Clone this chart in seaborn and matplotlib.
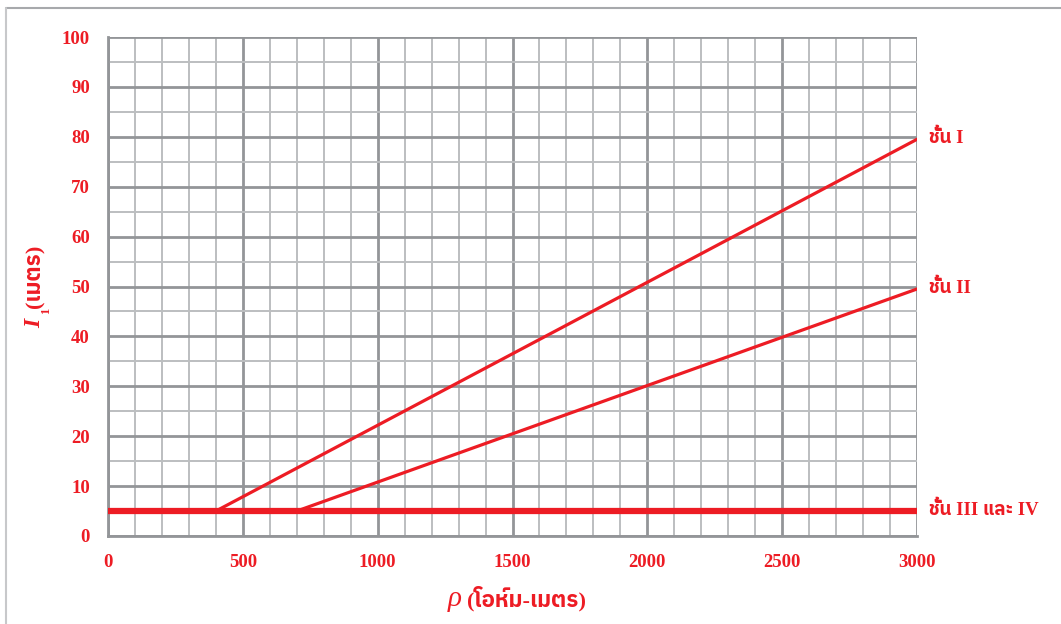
import matplotlib
matplotlib.use("Agg")
import matplotlib.pyplot as plt
import matplotlib.font_manager as fm
import seaborn as sns
import pandas as pd
from matplotlib.lines import Line2D

# -----------------------
# Data
# -----------------------
class_labels = ["ชั้น I", "ชั้น II", "ชั้น III และ IV"]
rho_class1 = [400, 3000]
l_class1 = [5, 79.5]
rho_class2 = [700, 3000]
l_class2 = [5, 49.5]
rho_class34 = [0, 3000]
l_class34 = [5, 5]

x_ticks = [0, 500, 1000, 1500, 2000, 2500, 3000]
y_ticks = [0, 10, 20, 30, 40, 50, 60, 70, 80, 90, 100]

RED = "#ed1c24"
MAJOR = "#939598"
MINOR = "#bcbec0"

# -----------------------
# Fonts
# -----------------------
sns.set_style("white")
thai_names = sorted({f.name for f in fm.fontManager.ttflist
                     if "thai" in f.name.lower()
                     or f.name in ("Loma", "Garuda", "Norasi", "Kinnari",
                                   "Sawasdee", "Umpush", "Waree")})
families = ["Liberation Serif"] + thai_names + ["DejaVu Sans"]
plt.rcParams["font.family"] = families

W, H = 1061, 624


def fx(px):
    return px / W


def fy(py):
    return 1 - py / H


# -----------------------
# Figure
# -----------------------
fig = plt.figure(figsize=(W / 100, H / 100), dpi=100)
ax = fig.add_axes([fx(108), fy(536), fx(917) - fx(108), fy(37) - fy(536)])

df1 = pd.DataFrame({"rho": rho_class1, "l": l_class1})
df2 = pd.DataFrame({"rho": rho_class2, "l": l_class2})
df3 = pd.DataFrame({"rho": rho_class34, "l": l_class34})

sns.lineplot(data=df3, x="rho", y="l", ax=ax, color=RED, linewidth=4.5, zorder=5)
sns.lineplot(data=df1, x="rho", y="l", ax=ax, color=RED, linewidth=2.3, zorder=5)
sns.lineplot(data=df2, x="rho", y="l", ax=ax, color=RED, linewidth=2.3, zorder=5)

ax.set_xlim(0, 3000)
ax.set_ylim(0, 100)
ax.set_xticks(x_ticks)
ax.set_yticks(y_ticks)
ax.set_xticks(range(0, 3001, 100), minor=True)
ax.set_yticks(range(0, 101, 5), minor=True)

ax.grid(which="minor", color=MINOR, linewidth=1.4, zorder=0)
ax.grid(which="major", color=MAJOR, linewidth=2.0, zorder=1)
ax.set_axisbelow(True)

for side in ["top", "right"]:
    ax.spines[side].set_visible(False)
for side in ["left", "bottom"]:
    ax.spines[side].set_color(MAJOR)
    ax.spines[side].set_linewidth(2.0)

ax.tick_params(which="major", length=6, width=2.0, color=MAJOR,
               labelcolor=RED, labelsize=13.5, pad=7)
ax.tick_params(which="minor", length=0)
for lab in ax.get_xticklabels() + ax.get_yticklabels():
    lab.set_fontweight("bold")

ax.set_xlabel("")
ax.set_ylabel("")

# x label: italic rho + Thai unit
fig.text(fx(462), fy(606), "ρ", color=RED, fontsize=21, fontstyle="italic",
         family="Liberation Serif", ha="right", va="baseline")
fig.text(fx(467), fy(606), "(โอห์ม-เมตร)", color=RED, fontsize=16,
         fontweight="bold", ha="left", va="baseline")

# y label: bold italic I, subscript 1, Thai unit (rotated)
fig.text(fx(40), fy(328), "I", color=RED, fontsize=17, fontstyle="italic",
         fontweight="bold", family="Liberation Serif", rotation=90,
         rotation_mode="anchor", ha="left", va="baseline")
fig.text(fx(49), fy(314), "1", color=RED, fontsize=9, fontweight="bold",
         family="Liberation Serif", rotation=90, rotation_mode="anchor",
         ha="left", va="baseline")
fig.text(fx(40), fy(308), "(เมตร)", color=RED, fontsize=16,
         fontweight="bold", rotation=90, rotation_mode="anchor",
         ha="left", va="baseline")

# right-side class labels
label_y = [l_class1[-1] + 0.3, l_class2[-1] + 0.3, l_class34[-1] + 0.2]
for text, yv in zip(class_labels, label_y):
    ax.text(3045, yv, text, color=RED, fontsize=13.5, fontweight="bold",
            va="center", ha="left", clip_on=False)

# frame lines (top and left)
fig.add_artist(Line2D([fx(6), 1.0], [fy(8), fy(8)], color="#a7a9ac", linewidth=1.5))
fig.add_artist(Line2D([fx(6), fx(6)], [0.0, fy(8)], color="#c7c8ca", linewidth=1.5))

fig.savefig("out.png", dpi=100)
